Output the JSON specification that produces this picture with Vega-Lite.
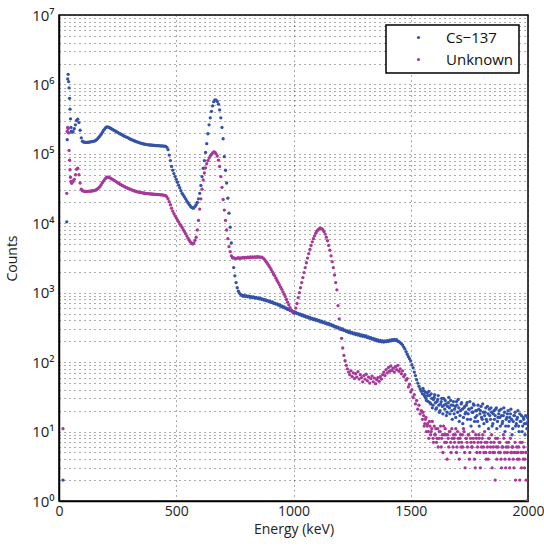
{
  "$schema": "https://vega.github.io/schema/vega-lite/v6.json",
  "width": 469,
  "height": 486,
  "autosize": {"type": "none"},
  "padding": {"left": 59, "top": 15, "right": 16, "bottom": 45},
  "background": "white",
  "data": {"values": [
{"e":17,"a":2,"b":11},{"e":33,"a":10500,"b":27000},{"e":35,"a":160000,"b":210000},{"e":37,"a":1200000,"b":240000},{"e":39,"a":1400000,"b":230000},{"e":41,"a":1100000,"b":200000},{"e":43,"a":890000,"b":112000},{"e":45,"a":630000,"b":81000},{"e":47,"a":440000,"b":59000},{"e":49,"a":320000,"b":46000},{"e":51,"a":240000,"b":40000},{"e":53,"a":212000,"b":38000},{"e":55,"a":205000,"b":38000},
{"e":60,"a":208000,"b":40000},{"e":65,"a":230000,"b":43000},{"e":70,"a":262000,"b":50000},{"e":75,"a":302000,"b":60000},{"e":80,"a":316000,"b":62000},{"e":85,"a":282000,"b":50000},{"e":90,"a":219000,"b":38000},{"e":95,"a":170000,"b":31000},
{"e":100,"a":152000,"b":29500},{"e":105,"a":148000,"b":29000},{"e":110,"a":147000,"b":28800},{"e":115,"a":146000,"b":28700},{"e":120,"a":146000,"b":28800},{"e":125,"a":147000,"b":28900},{"e":130,"a":148000,"b":29000},{"e":135,"a":149000,"b":29100},{"e":140,"a":150000,"b":29200},{"e":145,"a":151000,"b":29400},
{"e":150,"a":153000,"b":29600},{"e":155,"a":155000,"b":30000},{"e":160,"a":160000,"b":30500},{"e":165,"a":166000,"b":31500},{"e":170,"a":174000,"b":32500},{"e":175,"a":182000,"b":34000},{"e":180,"a":191000,"b":36000},{"e":185,"a":204000,"b":38500},{"e":190,"a":218000,"b":40500},{"e":195,"a":229000,"b":43000},
{"e":200,"a":240000,"b":45000},{"e":205,"a":245000,"b":46000},{"e":210,"a":243000,"b":46000},{"e":215,"a":238000,"b":45500},{"e":220,"a":234000,"b":44500},{"e":225,"a":228000,"b":43500},{"e":230,"a":223000,"b":42500},{"e":235,"a":218000,"b":41500},{"e":240,"a":214000,"b":40500},{"e":245,"a":209000,"b":39500},
{"e":250,"a":204000,"b":38500},{"e":255,"a":199000,"b":37500},{"e":260,"a":195000,"b":36500},{"e":265,"a":191000,"b":35800},{"e":270,"a":187000,"b":35000},{"e":275,"a":183000,"b":34300},{"e":280,"a":179000,"b":33600},{"e":285,"a":176000,"b":33000},{"e":290,"a":173000,"b":32400},{"e":295,"a":170000,"b":31800},
{"e":300,"a":166000,"b":31300},{"e":305,"a":163000,"b":30800},{"e":310,"a":160000,"b":30300},{"e":315,"a":157000,"b":29800},{"e":320,"a":155000,"b":29400},{"e":325,"a":152000,"b":29000},{"e":330,"a":150000,"b":28700},{"e":335,"a":148000,"b":28400},{"e":340,"a":146000,"b":28100},{"e":345,"a":144000,"b":27900},
{"e":350,"a":142000,"b":27700},{"e":355,"a":141000,"b":27500},{"e":360,"a":139000,"b":27300},{"e":365,"a":138000,"b":27100},{"e":370,"a":137000,"b":26900},{"e":375,"a":136000,"b":26800},{"e":380,"a":135000,"b":26700},{"e":385,"a":134500,"b":26600},{"e":390,"a":134000,"b":26500},{"e":395,"a":133500,"b":26400},
{"e":400,"a":133000,"b":26300},{"e":405,"a":132500,"b":26200},{"e":410,"a":132000,"b":26100},{"e":415,"a":131500,"b":26000},{"e":420,"a":131000,"b":26000},{"e":425,"a":131000,"b":25900},{"e":430,"a":130500,"b":25800},{"e":435,"a":130000,"b":25700},{"e":440,"a":130000,"b":25600},{"e":445,"a":129500,"b":25500},
{"e":450,"a":129000,"b":25300},{"e":455,"a":128000,"b":25000},{"e":460,"a":124000,"b":24000},{"e":465,"a":115000,"b":22500},{"e":470,"a":96000,"b":20500},{"e":475,"a":80000,"b":18500},{"e":480,"a":66000,"b":16500},{"e":485,"a":58000,"b":15000},{"e":490,"a":52000,"b":13800},{"e":495,"a":47000,"b":12800},
{"e":500,"a":43000,"b":12000},{"e":505,"a":39000,"b":11200},{"e":510,"a":35500,"b":10500},{"e":515,"a":32500,"b":9800},{"e":520,"a":29500,"b":9300},{"e":525,"a":27000,"b":8700},{"e":530,"a":25500,"b":8100},{"e":535,"a":24000,"b":7600},{"e":540,"a":22500,"b":7100},{"e":545,"a":21000,"b":6600},
{"e":550,"a":19800,"b":6100},{"e":555,"a":18700,"b":5700},{"e":560,"a":17800,"b":5400},{"e":565,"a":17000,"b":5150},{"e":570,"a":16600,"b":5050},{"e":575,"a":16600,"b":5200},{"e":580,"a":17500,"b":5700},{"e":585,"a":18500,"b":6300},{"e":590,"a":20000,"b":8000},{"e":595,"a":22500,"b":11000},
{"e":600,"a":27000,"b":16000},{"e":605,"a":35000,"b":22500},{"e":610,"a":47000,"b":31000},{"e":615,"a":62000,"b":42000},{"e":620,"a":80000,"b":53000},{"e":625,"a":105000,"b":63000},{"e":630,"a":140000,"b":72000},{"e":635,"a":195000,"b":80000},{"e":640,"a":262000,"b":87000},{"e":645,"a":330000,"b":93000},
{"e":650,"a":410000,"b":98000},{"e":655,"a":490000,"b":103000},{"e":660,"a":565000,"b":107000},{"e":665,"a":600000,"b":106000},{"e":670,"a":595000,"b":100000},{"e":675,"a":570000,"b":93000},{"e":680,"a":520000,"b":81000},{"e":685,"a":430000,"b":66000},{"e":690,"a":330000,"b":47000},{"e":695,"a":240000,"b":33000},
{"e":700,"a":165000,"b":22000},{"e":705,"a":91000,"b":15500},{"e":710,"a":58000,"b":11000},{"e":715,"a":38000,"b":8000},{"e":720,"a":23000,"b":6000},{"e":725,"a":14000,"b":4600},{"e":730,"a":8800,"b":3900},{"e":735,"a":5200,"b":3400},{"e":740,"a":3200,"b":3200},{"e":745,"a":2300,"b":3150},
{"e":750,"a":1750,"b":3150},{"e":755,"a":1400,"b":3100},{"e":760,"a":1180,"b":3150},{"e":765,"a":1050,"b":3200},{"e":770,"a":980,"b":3120},{"e":775,"a":940,"b":3180},{"e":780,"a":920,"b":3150},{"e":785,"a":890,"b":3220},{"e":790,"a":915,"b":3160},{"e":795,"a":885,"b":3230},
{"e":800,"a":900,"b":3180},{"e":805,"a":875,"b":3250},{"e":810,"a":895,"b":3200},{"e":815,"a":860,"b":3270},{"e":820,"a":880,"b":3210},{"e":825,"a":850,"b":3280},{"e":830,"a":870,"b":3230},{"e":835,"a":840,"b":3290},{"e":840,"a":855,"b":3240},{"e":845,"a":830,"b":3300},
{"e":850,"a":845,"b":3250},{"e":855,"a":815,"b":3290},{"e":860,"a":830,"b":3220},{"e":865,"a":800,"b":3250},{"e":870,"a":810,"b":3150},{"e":875,"a":780,"b":3050},{"e":880,"a":795,"b":2900},{"e":885,"a":765,"b":2750},{"e":890,"a":770,"b":2600},{"e":895,"a":745,"b":2450},
{"e":900,"a":750,"b":2300},{"e":905,"a":725,"b":2150},{"e":910,"a":735,"b":2000},{"e":915,"a":705,"b":1850},{"e":920,"a":710,"b":1750},{"e":925,"a":685,"b":1620},{"e":930,"a":690,"b":1500},{"e":935,"a":665,"b":1400},{"e":940,"a":670,"b":1300},{"e":945,"a":640,"b":1200},
{"e":950,"a":645,"b":1120},{"e":955,"a":615,"b":1030},{"e":960,"a":625,"b":950},{"e":965,"a":595,"b":880},{"e":970,"a":600,"b":800},{"e":975,"a":575,"b":730},{"e":980,"a":580,"b":670},{"e":985,"a":555,"b":610},{"e":990,"a":560,"b":565},{"e":995,"a":530,"b":530},
{"e":1000,"a":535,"b":510},{"e":1005,"a":515,"b":530},{"e":1010,"a":520,"b":600},{"e":1015,"a":500,"b":700},{"e":1020,"a":505,"b":850},{"e":1025,"a":485,"b":1000},{"e":1030,"a":490,"b":1180},{"e":1035,"a":470,"b":1400},{"e":1040,"a":478,"b":1650},{"e":1045,"a":458,"b":1950},
{"e":1050,"a":462,"b":2300},{"e":1055,"a":445,"b":2700},{"e":1060,"a":452,"b":3150},{"e":1065,"a":432,"b":3650},{"e":1070,"a":440,"b":4200},{"e":1075,"a":422,"b":4800},{"e":1080,"a":428,"b":5400},{"e":1085,"a":410,"b":6000},{"e":1090,"a":418,"b":6600},{"e":1095,"a":400,"b":7200},
{"e":1100,"a":410,"b":7700},{"e":1105,"a":392,"b":8100},{"e":1110,"a":398,"b":8400},{"e":1115,"a":380,"b":8500},{"e":1120,"a":390,"b":8400},{"e":1125,"a":372,"b":8100},{"e":1130,"a":378,"b":7600},{"e":1135,"a":362,"b":7000},{"e":1140,"a":368,"b":6300},{"e":1145,"a":352,"b":5600},
{"e":1150,"a":360,"b":4800},{"e":1155,"a":344,"b":4100},{"e":1160,"a":350,"b":3400},{"e":1165,"a":334,"b":2800},{"e":1170,"a":338,"b":2300},{"e":1175,"a":322,"b":1800},{"e":1180,"a":328,"b":1400},{"e":1185,"a":312,"b":1100},{"e":1190,"a":318,"b":650},{"e":1195,"a":302,"b":420},
{"e":1200,"a":308,"b":300},{"e":1205,"a":294,"b":220},{"e":1210,"a":300,"b":160},{"e":1215,"a":286,"b":125},{"e":1220,"a":290,"b":105},{"e":1225,"a":277,"b":90},{"e":1230,"a":282,"b":80},{"e":1235,"a":268,"b":72},{"e":1240,"a":274,"b":66},{"e":1245,"a":262,"b":75},
{"e":1250,"a":268,"b":62},{"e":1255,"a":256,"b":70},{"e":1260,"a":262,"b":58},{"e":1265,"a":250,"b":68},{"e":1270,"a":257,"b":61},{"e":1275,"a":246,"b":73},{"e":1280,"a":252,"b":57},{"e":1285,"a":240,"b":66},{"e":1290,"a":247,"b":60},{"e":1295,"a":236,"b":52},
{"e":1300,"a":243,"b":64},{"e":1305,"a":232,"b":57},{"e":1310,"a":238,"b":67},{"e":1315,"a":226,"b":54},{"e":1320,"a":231,"b":61},{"e":1325,"a":220,"b":50},{"e":1330,"a":226,"b":58},{"e":1335,"a":214,"b":63},{"e":1340,"a":220,"b":52},{"e":1345,"a":208,"b":59},
{"e":1350,"a":214,"b":49},{"e":1355,"a":203,"b":56},{"e":1360,"a":209,"b":60},{"e":1365,"a":199,"b":53},{"e":1370,"a":205,"b":62},{"e":1375,"a":196,"b":57},{"e":1380,"a":203,"b":66},{"e":1385,"a":195,"b":72},{"e":1390,"a":202,"b":64},{"e":1395,"a":197,"b":78},
{"e":1400,"a":204,"b":70},{"e":1405,"a":199,"b":84},{"e":1410,"a":208,"b":74},{"e":1415,"a":202,"b":88},{"e":1420,"a":211,"b":76},{"e":1425,"a":205,"b":82},{"e":1430,"a":213,"b":72},{"e":1435,"a":206,"b":86},{"e":1440,"a":210,"b":78},{"e":1445,"a":200,"b":90},
{"e":1450,"a":198,"b":74},{"e":1455,"a":190,"b":80},{"e":1460,"a":185,"b":68},{"e":1465,"a":176,"b":75},{"e":1470,"a":165,"b":62},{"e":1475,"a":155,"b":66},{"e":1480,"a":142,"b":55},{"e":1485,"a":130,"b":58},{"e":1490,"a":120,"b":44},{"e":1495,"a":112,"b":48},
{"e":1500,"a":104,"b":37},{"e":1505,"a":92,"b":40},{"e":1510,"a":83,"b":31},{"e":1515,"a":72,"b":34},{"e":1520,"a":64,"b":25},{"e":1525,"a":56,"b":28},{"e":1530,"a":50,"b":21},{"e":1535,"a":45,"b":24},{"e":1540,"a":41,"b":18},{"e":1545,"a":38,"b":20},
{"e":1550,"a":35,"b":15},{"e":1555,"a":39,"b":17},{"e":1560,"a":32,"b":13},{"e":1565,"a":30,"b":16},{"e":1570,"a":36,"b":12},{"e":1575,"a":27,"b":10},{"e":1580,"a":33,"b":14},{"e":1585,"a":25,"b":9},{"e":1590,"a":30,"b":11},{"e":1595,"a":24,"b":8},
{"e":1600,"a":31,"b":12},{"e":1605,"a":26,"b":9},{"e":1610,"a":22,"b":7},{"e":1615,"a":29,"b":11},{"e":1620,"a":24,"b":8},{"e":1625,"a":20,"b":10},{"e":1630,"a":27,"b":6},{"e":1635,"a":23,"b":9},{"e":1640,"a":30,"b":12},{"e":1645,"a":21,"b":7},
{"e":1650,"a":25,"b":9},{"e":1655,"a":19,"b":4},{"e":1660,"a":26,"b":8},{"e":1665,"a":22,"b":10},{"e":1670,"a":28,"b":7},{"e":1675,"a":20,"b":11},{"e":1680,"a":24,"b":6},{"e":1685,"a":18,"b":8},{"e":1690,"a":23,"b":9},{"e":1695,"a":27,"b":5},
{"e":1700,"a":19,"b":10},{"e":1705,"a":22,"b":7},{"e":1710,"a":17,"b":8},{"e":1715,"a":25,"b":6},{"e":1720,"a":21,"b":9},{"e":1725,"a":16,"b":11},{"e":1730,"a":23,"b":5},{"e":1735,"a":19,"b":8},{"e":1740,"a":26,"b":7},{"e":1745,"a":18,"b":9},
{"e":1750,"a":21,"b":4},{"e":1755,"a":15,"b":8},{"e":1760,"a":22,"b":6},{"e":1765,"a":19,"b":10},{"e":1770,"a":24,"b":7},{"e":1775,"a":16,"b":3},{"e":1780,"a":20,"b":8},{"e":1785,"a":14,"b":6},{"e":1790,"a":21,"b":9},{"e":1795,"a":18,"b":5},
{"e":1800,"a":23,"b":7},{"e":1805,"a":15,"b":8},{"e":1810,"a":19,"b":6},{"e":1815,"a":17,"b":10},{"e":1820,"a":22,"b":5},{"e":1825,"a":14,"b":7},{"e":1830,"a":18,"b":4},{"e":1835,"a":21,"b":8},{"e":1840,"a":15,"b":6},{"e":1845,"a":19,"b":9},
{"e":1850,"a":13,"b":5},{"e":1855,"a":20,"b":7},{"e":1860,"a":17,"b":2},{"e":1865,"a":22,"b":6},{"e":1870,"a":14,"b":8},{"e":1875,"a":18,"b":5},{"e":1880,"a":16,"b":7},{"e":1885,"a":21,"b":4},{"e":1890,"a":13,"b":6},{"e":1895,"a":17,"b":9},
{"e":1900,"a":19,"b":5},{"e":1905,"a":12,"b":3},{"e":1910,"a":16,"b":7},{"e":1915,"a":20,"b":6},{"e":1920,"a":14,"b":4},{"e":1925,"a":18,"b":8},{"e":1930,"a":15,"b":5},{"e":1935,"a":11,"b":6},{"e":1940,"a":17,"b":3},{"e":1945,"a":19,"b":7},
{"e":1950,"a":13,"b":5},{"e":1955,"a":16,"b":4},{"e":1960,"a":12,"b":6},{"e":1965,"a":18,"b":2},{"e":1970,"a":14,"b":5},{"e":1975,"a":10,"b":7},{"e":1980,"a":16,"b":4},{"e":1985,"a":13,"b":3},{"e":1990,"a":17,"b":5},{"e":1995,"a":11,"b":1},{"e":2000,"a":14,"b":6},
{"e":1552,"a":42,"b":19},{"e":1557,"a":34,"b":12},{"e":1562,"a":37,"b":15},{"e":1567,"a":28,"b":10},{"e":1572,"a":33,"b":13},{"e":1577,"a":38,"b":8},{"e":1582,"a":26,"b":12},{"e":1587,"a":35,"b":10},{"e":1592,"a":22,"b":14},{"e":1597,"a":29,"b":7},
{"e":1602,"a":34,"b":9},{"e":1607,"a":21,"b":11},{"e":1612,"a":27,"b":8},{"e":1617,"a":33,"b":6},{"e":1622,"a":19,"b":10},{"e":1627,"a":25,"b":12},{"e":1632,"a":30,"b":8},{"e":1637,"a":18,"b":5},{"e":1642,"a":24,"b":9},{"e":1647,"a":28,"b":11},
{"e":1652,"a":17,"b":7},{"e":1657,"a":23,"b":9},{"e":1662,"a":31,"b":6},{"e":1667,"a":18,"b":10},{"e":1672,"a":24,"b":5},{"e":1677,"a":15,"b":8},{"e":1682,"a":27,"b":9},{"e":1687,"a":21,"b":7},{"e":1692,"a":16,"b":11},{"e":1697,"a":24,"b":6},
{"e":1702,"a":29,"b":8},{"e":1707,"a":14,"b":4},{"e":1712,"a":20,"b":9},{"e":1717,"a":26,"b":7},{"e":1722,"a":13,"b":6},{"e":1727,"a":22,"b":10},{"e":1732,"a":18,"b":3},{"e":1737,"a":24,"b":8},{"e":1742,"a":15,"b":6},{"e":1747,"a":21,"b":9},
{"e":1752,"a":27,"b":5},{"e":1757,"a":12,"b":7},{"e":1762,"a":19,"b":6},{"e":1767,"a":25,"b":8},{"e":1772,"a":14,"b":4},{"e":1777,"a":20,"b":9},{"e":1782,"a":17,"b":5},{"e":1787,"a":24,"b":7},{"e":1792,"a":12,"b":8},{"e":1797,"a":20,"b":3},
{"e":1802,"a":16,"b":6},{"e":1807,"a":25,"b":9},{"e":1812,"a":13,"b":5},{"e":1817,"a":19,"b":7},{"e":1822,"a":15,"b":4},{"e":1827,"a":23,"b":6},{"e":1832,"a":11,"b":8},{"e":1837,"a":17,"b":5},{"e":1842,"a":22,"b":7},{"e":1847,"a":12,"b":3},
{"e":1852,"a":18,"b":6},{"e":1857,"a":15,"b":5},{"e":1862,"a":21,"b":8},{"e":1867,"a":11,"b":4},{"e":1872,"a":16,"b":6},{"e":1877,"a":20,"b":7},{"e":1882,"a":12,"b":5},{"e":1887,"a":17,"b":3},{"e":1892,"a":14,"b":6},{"e":1897,"a":22,"b":8},
{"e":1902,"a":10,"b":4},{"e":1907,"a":15,"b":6},{"e":1912,"a":18,"b":5},{"e":1917,"a":12,"b":7},{"e":1922,"a":16,"b":3},{"e":1927,"a":21,"b":5},{"e":1932,"a":9,"b":6},{"e":1937,"a":14,"b":4},{"e":1942,"a":17,"b":5},{"e":1947,"a":12,"b":2},
{"e":1952,"a":15,"b":6},{"e":1957,"a":20,"b":5},{"e":1962,"a":10,"b":4},{"e":1967,"a":14,"b":7},{"e":1972,"a":17,"b":3},{"e":1977,"a":12,"b":5},{"e":1982,"a":15,"b":6},{"e":1987,"a":9,"b":4},{"e":1992,"a":13,"b":2},{"e":1997,"a":16,"b":5}
  ]},
  "transform": [{"fold": ["a", "b"], "as": ["s", "n"]}],
  "mark": {"type": "point", "filled": true, "shape": "circle", "size": 11, "opacity": 1, "strokeWidth": 0, "clip": true},
  "encoding": {
    "x": {
      "field": "e", "type": "quantitative",
      "scale": {"domain": [0, 2000], "nice": false, "zero": false},
      "axis": {"values": [0, 500, 1000, 1500, 2000], "title": "Energy (keV)", "format": "d", "labelPadding": 3, "labelFontSize": 14, "titlePadding": 4}
    },
    "y": {
      "field": "n", "type": "quantitative",
      "scale": {"type": "log", "domain": [1, 10000000], "nice": false},
      "axis": {
        "values": [1,2,3,4,5,6,7,8,9,10,20,30,40,50,60,70,80,90,100,200,300,400,500,600,700,800,900,1000,2000,3000,4000,5000,6000,7000,8000,9000,10000,20000,30000,40000,50000,60000,70000,80000,90000,100000,200000,300000,400000,500000,600000,700000,800000,900000,1000000,2000000,3000000,4000000,5000000,6000000,7000000,8000000,9000000,10000000],
        "labelExpr": "abs(log(datum.value)/LN10 - round(log(datum.value)/LN10)) < 0.000001 ? '10' + ['⁰','¹','²','³','⁴','⁵','⁶','⁷'][round(log(datum.value)/LN10)] : ''",
        "title": "Counts", "labelPadding": 5, "titlePadding": 12
      }
    },
    "color": {
      "field": "s", "type": "nominal",
      "scale": {"domain": ["a", "b"], "range": ["#3353AA", "#A8379B"]},
      "legend": {
        "orient": "none", "legendX": 327, "legendY": 10, "title": null,
        "labelExpr": "datum.label == 'a' ? 'Cs−137' : 'Unknown'",
        "padding": 5, "fillColor": "white", "strokeColor": "black",
        "symbolType": "circle", "symbolSize": 10, "symbolStrokeWidth": 0,
        "symbolOffset": 20, "labelOffset": 20, "rowPadding": 6,
        "labelFontSize": 15, "labelFont": "Open Sans", "labelColor": "#111"
      }
    }
  },
  "config": {
    "view": {"stroke": "#000", "strokeWidth": 1.5},
    "axis": {
      "labelFont": "Open Sans", "labelFontSize": 15, "labelColor": "#222",
      "titleFont": "Open Sans", "titleFontSize": 14, "titleFontWeight": "normal", "titleColor": "#222",
      "ticks": false, "domain": true, "domainColor": "#000", "domainWidth": 1.5,
      "grid": true, "gridColor": "#111", "gridDash": [1, 4], "gridWidth": 1, "gridOpacity": 0.7,
      "labelFlush": false, "labelOverlap": false
    },
    "legend": {"strokeWidth": 1.5}
  }
}
